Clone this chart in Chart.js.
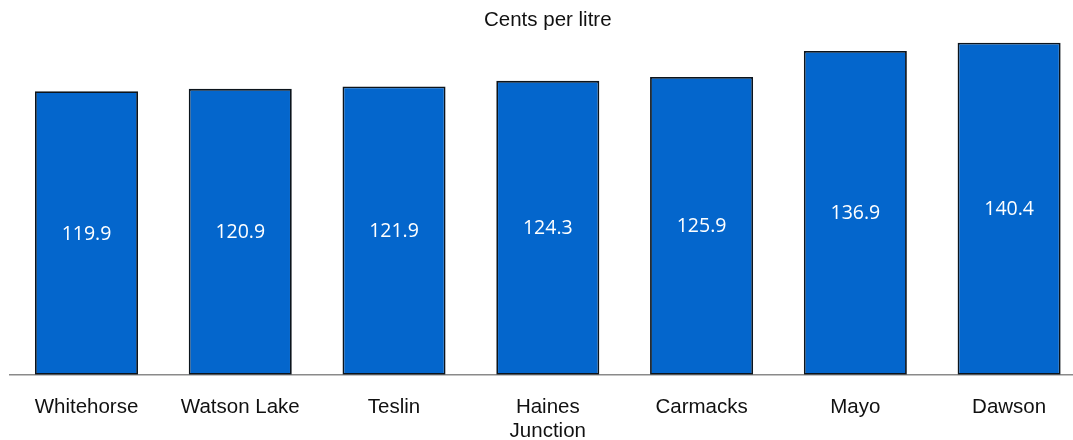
<!DOCTYPE html>
<html>
<head>
<meta charset="utf-8">
<script src="https://cdn.jsdelivr.net/npm/chart.js@4/dist/chart.umd.min.js"></script>
<style>
    html, body { margin: 0; padding: 0; background: #fff; overflow: hidden; }
    #wrap { width: 1096px; height: 464px; }
</style>
</head>
<body>
<div id="wrap"><canvas id="priceChart" width="1096" height="464"></canvas></div>
<script>
// Fuel prices by community
const communities = ['Whitehorse', 'Watson Lake', 'Teslin', ['Haines', 'Junction'], 'Carmacks', 'Mayo', 'Dawson'];
const centsPerLitre = [119.9, 120.9, 121.9, 124.3, 125.9, 136.9, 140.4];
const yMax = 143;

// draws the value in the middle of each bar
const barValues = {
    id: 'barValues',
    afterDatasetsDraw(chart) {
        const ctx = chart.ctx;
        const meta = chart.getDatasetMeta(0);
        ctx.save();
        ctx.fillStyle = '#ffffff';
        ctx.font = '19.5px "Open Sans"';
        ctx.textAlign = 'center';
        ctx.textBaseline = 'middle';
        meta.data.forEach((bar, i) => {
            const props = bar.getProps(['x', 'y', 'base'], true);
            ctx.fillText(centsPerLitre[i].toFixed(1), props.x, (props.y + props.base) / 2 + 1);
        });
        ctx.restore();
    }
};

const ctx = document.getElementById('priceChart').getContext('2d');
new Chart(ctx, {
    type: 'bar',
    data: {
        labels: communities,
        datasets: [{
            label: 'Cents per litre',
            data: centsPerLitre,
            backgroundColor: '#0466cc',
            borderColor: '#0c141c',
            borderWidth: 1.8,
            borderSkipped: false,
            barPercentage: 0.67,
            categoryPercentage: 1
        }]
    },
    options: {
        responsive: false,
        animation: false,
        layout: { padding: { left: 9.6, right: 10, top: 0, bottom: 0 } },
        scales: {
            x: {
                grid: { display: false, drawTicks: false },
                border: { display: true, color: '#8a8a8a', width: 1.5, z: -1 },
                ticks: {
                    color: '#111111',
                    padding: 20,
                    maxRotation: 0,
                    autoSkip: false,
                    font: { family: '"Liberation Sans", Arial', size: 20.5, lineHeight: 1.2 }
                }
            },
            y: {
                display: false,
                min: 0,
                max: yMax
            }
        },
        plugins: {
            legend: { display: false },
            tooltip: { enabled: false },
            title: {
                display: true,
                text: 'Cents per litre',
                color: '#111111',
                padding: { top: 8, bottom: 4 },
                font: { family: '"Liberation Sans", Arial', size: 20.5, weight: 'normal', lineHeight: 1.2 }
            }
        }
    },
    plugins: [barValues]
});
</script>
</body>
</html>
